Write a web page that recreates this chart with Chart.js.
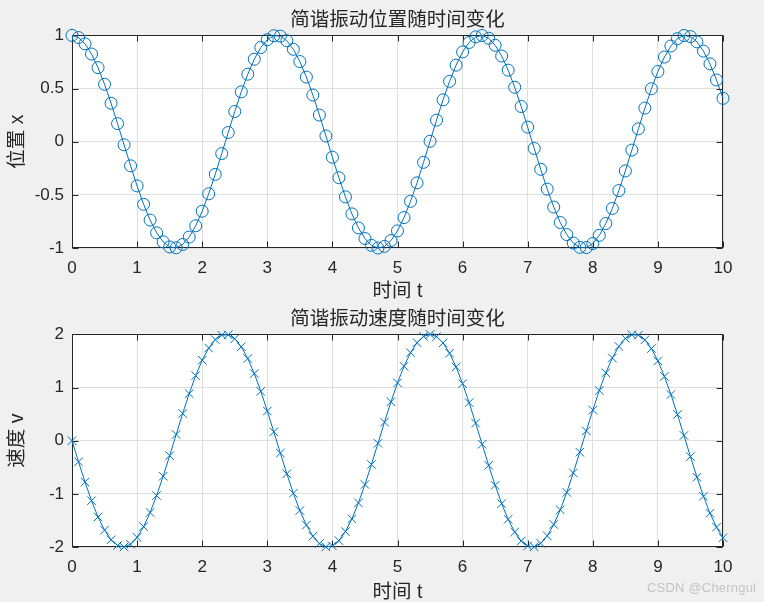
<!DOCTYPE html>
<html>
<head>
<meta charset="utf-8">
<script src="https://cdn.jsdelivr.net/npm/chart.js@4.4.1/dist/chart.umd.min.js"></script>
<style>
  body { margin: 0; background: #f0f0f0; width: 764px; height: 602px; overflow: hidden; position: relative; }
  canvas { position: absolute; left: 0; }
  #c1 { top: 0; }
  #c2 { top: 299px; }
  #wm { position: absolute; left: 647px; top: 580px; font: 13px 'Liberation Sans', sans-serif; color: #c4c4c4; letter-spacing: 0.2px; }
</style>
</head>
<body>
<canvas id="c1" width="764" height="301"></canvas>
<canvas id="c2" width="764" height="303"></canvas>
<div id="wm">CSDN @Cherngul</div>
<script>
// temps t (s)
var t = [0, 0.1, 0.2, 0.3, 0.4, 0.5, 0.6, 0.7, 0.8, 0.9,
  1.0, 1.1, 1.2, 1.3, 1.4, 1.5, 1.6, 1.7, 1.8, 1.9,
  2.0, 2.1, 2.2, 2.3, 2.4, 2.5, 2.6, 2.7, 2.8, 2.9,
  3.0, 3.1, 3.2, 3.3, 3.4, 3.5, 3.6, 3.7, 3.8, 3.9,
  4.0, 4.1, 4.2, 4.3, 4.4, 4.5, 4.6, 4.7, 4.8, 4.9,
  5.0, 5.1, 5.2, 5.3, 5.4, 5.5, 5.6, 5.7, 5.8, 5.9,
  6.0, 6.1, 6.2, 6.3, 6.4, 6.5, 6.6, 6.7, 6.8, 6.9,
  7.0, 7.1, 7.2, 7.3, 7.4, 7.5, 7.6, 7.7, 7.8, 7.9,
  8.0, 8.1, 8.2, 8.3, 8.4, 8.5, 8.6, 8.7, 8.8, 8.9,
  9.0, 9.1, 9.2, 9.3, 9.4, 9.5, 9.6, 9.7, 9.8, 9.9,
  10.0];

// position x
var position = [1, 0.980, 0.921, 0.825, 0.697, 0.540, 0.362, 0.170, -0.029, -0.227,
  -0.416, -0.589, -0.737, -0.857, -0.942, -0.990, -0.998, -0.967, -0.897, -0.791,
  -0.654, -0.490, -0.307, -0.112, 0.087, 0.284, 0.469, 0.635, 0.776, 0.886,
  0.960, 0.997, 0.993, 0.950, 0.869, 0.754, 0.608, 0.439, 0.251, 0.054,
  -0.146, -0.339, -0.519, -0.679, -0.811, -0.911, -0.975, -1.000, -0.985, -0.930,
  -0.839, -0.714, -0.561, -0.387, -0.194, 0.004, 0.203, 0.394, 0.568, 0.720,
  0.844, 0.934, 0.986, 0.999, 0.973, 0.907, 0.806, 0.673, 0.512, 0.331,
  0.137, -0.063, -0.260, -0.446, -0.615, -0.760, -0.874, -0.953, -0.994, -0.996,
  -0.958, -0.881, -0.770, -0.628, -0.460, -0.275, -0.079, 0.121, 0.316, 0.498,
  0.660, 0.796, 0.900, 0.969, 0.999, 0.989, 0.939, 0.852, 0.732, 0.581,
  0.408];

// vitesse v
var velocity = [0, -0.397, -0.779, -1.129, -1.435, -1.683, -1.864, -1.971, -1.999, -1.948,
  -1.819, -1.617, -1.351, -1.031, -0.670, -0.282, 0.117, 0.511, 0.885, 1.224,
  1.514, 1.743, 1.903, 1.987, 1.992, 1.918, 1.767, 1.546, 1.263, 0.929,
  0.559, 0.166, -0.233, -0.623, -0.988, -1.314, -1.587, -1.797, -1.936, -1.997,
  -1.979, -1.881, -1.709, -1.469, -1.170, -0.824, -0.446, -0.050, 0.349, 0.733,
  1.088, 1.400, 1.656, 1.844, 1.962, 2.000, 1.958, 1.839, 1.646, 1.387,
  1.073, 0.716, 0.331, -0.067, -0.463, -0.840, -1.184, -1.480, -1.719, -1.887,
  -1.981, -1.996, -1.931, -1.790, -1.576, -1.301, -0.973, -0.607, -0.216, 0.184,
  0.576, 0.945, 1.276, 1.557, 1.775, 1.923, 1.994, 1.985, 1.898, 1.734,
  1.502, 1.210, 0.869, 0.493, 0.099, -0.300, -0.687, -1.046, -1.364, -1.627,
  -1.826];

var xTicks = [0, 1, 2, 3, 4, 5, 6, 7, 8, 9, 10];
var posTicks = [-1, -0.5, 0, 0.5, 1];
var velTicks = [-2, -1, 0, 1, 2];

Chart.defaults.font.family = "'Liberation Sans', 'Noto Sans CJK SC', sans-serif";
Chart.defaults.color = '#262626';

var lineColor = '#0072bd';
var gridColor = '#dfdfdf';
var axisColor = '#262626';

// fond blanc, cadre et graduations vers l'intérieur
var boxPlugin = {
    id: 'box',
    beforeDraw: function(chart) {
        var a = chart.chartArea;
        var ctx = chart.ctx;
        ctx.save();
        ctx.fillStyle = '#ffffff';
        ctx.fillRect(a.left, a.top, a.right - a.left, a.bottom - a.top);
        ctx.restore();
    },
    beforeDatasetsDraw: function(chart) {
        var a = chart.chartArea;
        var ctx = chart.ctx;
        var L = Math.round(a.left) + 0.5, R = Math.round(a.right) - 0.5;
        var T = Math.round(a.top) + 0.5, B = Math.round(a.bottom) - 0.5;
        ctx.save();
        ctx.strokeStyle = axisColor;
        ctx.lineWidth = 1;
        ctx.strokeRect(L, T, R - L, B - T);
        ctx.beginPath();
        chart.scales.x.ticks.forEach(function(tk) {
            var px = Math.round(chart.scales.x.getPixelForValue(tk.value)) + 0.5;
            ctx.moveTo(px, B); ctx.lineTo(px, B - 6);
            ctx.moveTo(px, T); ctx.lineTo(px, T + 6);
        });
        chart.scales.y.ticks.forEach(function(tk) {
            var py = Math.round(chart.scales.y.getPixelForValue(tk.value)) + 0.5;
            ctx.moveTo(L, py); ctx.lineTo(L + 6, py);
            ctx.moveTo(R, py); ctx.lineTo(R - 6, py);
        });
        ctx.stroke();
        ctx.restore();
    }
};

function tickLabel(value) {
    return String(value);
}

function makeChart(id, title, yLabel, values, yTicks, marker) {
    var canvas = document.getElementById(id);
    var xHeight = canvas.height - 248;
    var points = t.map(function(tv, i) { return { x: tv, y: values[i] }; });
    return new Chart(canvas.getContext('2d'), {
        type: 'line',
        data: {
            datasets: [{
                data: points,
                borderColor: lineColor,
                borderWidth: 1,
                pointStyle: marker,
                pointRadius: 6,
                pointHoverRadius: 6,
                pointBorderWidth: 1,
                pointBorderColor: lineColor,
                pointBackgroundColor: 'rgba(0,0,0,0)',
                tension: 0,
                clip: false
            }]
        },
        options: {
            responsive: false,
            animation: false,
            events: [],
            layout: { padding: { left: 0, right: 41, top: 0, bottom: 0 } },
            plugins: {
                legend: { display: false },
                tooltip: { enabled: false },
                title: {
                    display: true,
                    text: title,
                    fullSize: false,
                    color: '#262626',
                    font: { size: 19.5, weight: 'normal', lineHeight: 1.2 },
                    padding: { top: 9, bottom: 3 }
                }
            },
            scales: {
                x: {
                    type: 'linear',
                    min: xTicks[0],
                    max: xTicks[xTicks.length - 1],
                    afterBuildTicks: function(scale) {
                        scale.ticks = xTicks.map(function(v) { return { value: v }; });
                    },
                    afterFit: function(scale) { scale.height = xHeight; },
                    grid: { color: gridColor, drawTicks: false },
                    border: { display: false },
                    ticks: { padding: 10, font: { size: 17 }, color: '#262626', maxRotation: 0, callback: tickLabel },
                    title: { display: true, text: '时间 t', font: { size: 19.5, lineHeight: 1 }, padding: { top: 0, bottom: 0 }, color: '#262626' }
                },
                y: {
                    type: 'linear',
                    min: yTicks[0],
                    max: yTicks[yTicks.length - 1],
                    afterBuildTicks: function(scale) {
                        scale.ticks = yTicks.map(function(v) { return { value: v }; });
                    },
                    afterFit: function(scale) { scale.width = 72; },
                    grid: { color: gridColor, drawTicks: false },
                    border: { display: false },
                    ticks: { padding: 8, font: { size: 17 }, color: '#262626', callback: tickLabel },
                    title: { display: true, text: yLabel, font: { size: 19.5, lineHeight: 1 }, padding: { top: 8, bottom: 0 }, color: '#262626' }
                }
            }
        },
        plugins: [boxPlugin]
    });
}

var positionChart = makeChart('c1', '简谐振动位置随时间变化', '位置 x', position, posTicks, 'circle');
var velocityChart = makeChart('c2', '简谐振动速度随时间变化', '速度 v', velocity, velTicks, 'crossRot');
</script>
</body>
</html>
